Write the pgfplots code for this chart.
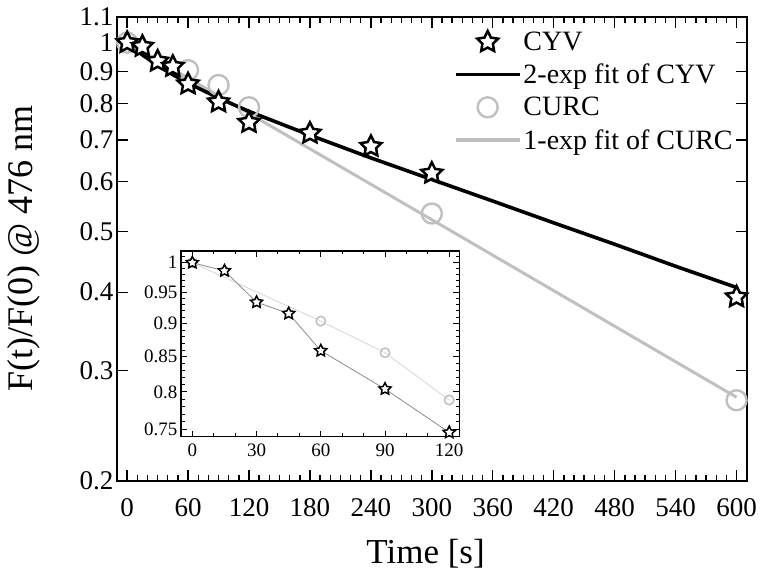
\documentclass[border=0pt]{standalone}
\usepackage{fontspec}
\setmainfont{Liberation Serif}
\usepackage{pgfplots}
\pgfplotsset{compat=1.18}
\usetikzlibrary{plotmarks}

% open five-pointed star
\pgfdeclareplotmark{ostar}{%
  \pgfmathsetmacro\ri{0.5*\pgfplotmarksize}%
  \pgfpathmoveto{\pgfpointpolar{90}{\pgfplotmarksize}}%
  \pgfpathlineto{\pgfpointpolar{126}{\ri pt}}%
  \pgfpathlineto{\pgfpointpolar{162}{\pgfplotmarksize}}%
  \pgfpathlineto{\pgfpointpolar{198}{\ri pt}}%
  \pgfpathlineto{\pgfpointpolar{234}{\pgfplotmarksize}}%
  \pgfpathlineto{\pgfpointpolar{270}{\ri pt}}%
  \pgfpathlineto{\pgfpointpolar{306}{\pgfplotmarksize}}%
  \pgfpathlineto{\pgfpointpolar{342}{\ri pt}}%
  \pgfpathlineto{\pgfpointpolar{18}{\pgfplotmarksize}}%
  \pgfpathlineto{\pgfpointpolar{54}{\ri pt}}%
  \pgfpathclose
  \pgfusepathqfillstroke}

\definecolor{curc}{RGB}{192,192,192}
\definecolor{insetcyv}{RGB}{140,140,140}
\definecolor{insetcurc}{RGB}{215,215,215}

\pgfplotsset{
  longlegend/.style={legend image code/.code={\draw[mark repeat=2,mark phase=2,##1] plot coordinates {(0pt,0pt) (32pt,0pt) (64pt,0pt)};}},
  marklegend/.style={legend image code/.code={\draw[##1] plot coordinates {(32pt,0pt)};}},
}

\pgfplotstableread{
t   f
0   1.000
15  0.986
30  0.934
45  0.916
60  0.859
90  0.804
120 0.746
180 0.717
240 0.683
300 0.619
600 0.393
}\cyv

\pgfplotstableread{
t   f
0   1.000
60  0.904
90  0.856
120 0.789
300 0.534
600 0.269
}\curc

\pgfplotstableread{
t   f
0   1.000
15  0.956
30  0.920
45  0.889
60  0.862
90  0.816
120 0.777
180 0.712
240 0.655
300 0.605
360 0.559
420 0.516
480 0.477
540 0.440
600 0.407
}\cyvfit

\pgfplotstableread{
t   f
0   1.000
300 0.522
600 0.272
}\curcfit

\begin{document}
\begin{tikzpicture}
\useasboundingbox (-117pt,-99pt) rectangle (644pt,481pt);
\begin{axis}[
  scale only axis, width=629.7pt, height=464.3pt,
  xmin=-10, xmax=610,
  ymode=log, ymin=0.2, ymax=1.1,
  xtick={0,60,...,600}, minor x tick num=5,
  ytick={0.2,0.3,0.4,0.5,0.6,0.7,0.8,0.9,1,1.1},
  yticklabels={0.2,0.3,0.4,0.5,0.6,0.7,0.8,0.9,1,1.1},
  minor y tick num=0,
  tick align=inside,
  major tick length=11pt, minor tick length=6pt,
  axis line style={line width=1.8pt},
  every tick/.append style={black, line width=1.4pt},
  tick label style={font=\fontsize{27}{30}\selectfont},
  xticklabel style={yshift=-14pt},
  /pgf/number format/assume math mode=true,
  xlabel={Time [s]},
  xlabel style={font=\fontsize{35}{38}\selectfont, at={(axis description cs:0.49,-0.157)}, anchor=center},
  ylabel={F(t)/F(0) @ 476 nm},
  ylabel style={font=\fontsize{36}{38}\selectfont, at={(axis description cs:-0.1485,0.5)}, anchor=center},
  legend style={at={(0.986,0.976)}, anchor=north east, draw=none, fill=none,
    font=\fontsize{28}{30}\selectfont, row sep=8pt, inner xsep=3pt, inner ysep=2pt},
  legend cell align=left,
  longlegend,
]
\addplot[curc, line width=3pt, forget plot] table[x=t,y=f] {\curcfit};
\addplot[black, line width=3.6pt, forget plot] table[x=t,y=f] {\cyvfit};
\addplot[only marks, mark=o, mark size=10pt, mark options={draw=curc, line width=2.4pt}, forget plot] table[x=t,y=f] {\curc};
\addplot[only marks, mark=ostar, mark size=11pt, mark options={draw=black, fill=white, line width=2.5pt}, forget plot] table[x=t,y=f] {\cyv};

\addlegendimage{only marks, mark=ostar, mark size=11pt, mark options={draw=black, fill=white, line width=2.5pt}, marklegend}
\addlegendimage{black, line width=3.6pt, longlegend}
\addlegendimage{only marks, mark=o, mark size=10pt, mark options={draw=curc, line width=2.4pt}, marklegend}
\addlegendimage{curc, line width=3.4pt, longlegend}
\legend{CYV, 2-exp fit of CYV, CURC, 1-exp fit of CURC}
\end{axis}

\begin{axis}[
  at={(64pt,44.3pt)}, anchor=south west,
  scale only axis, width=278.3pt, height=185.7pt,
  xmin=-5.3, xmax=124.7,
  ymode=log, ymin=0.7405, ymax=1.0204,
  xtick={0,30,...,120}, minor x tick num=2,
  ytick={0.75,0.8,0.85,0.9,0.95,1},
  yticklabels={0.75,0.8,0.85,0.9,0.95,1},
  minor ytick={0.76,0.77,0.78,0.79,0.81,0.82,0.83,0.84,0.86,0.87,0.88,0.89,0.91,0.92,0.93,0.94,0.96,0.97,0.98,0.99,1.01,1.02},
  tick align=inside,
  major tick length=6pt, minor tick length=3.5pt,
  axis line style={line width=1.3pt},
  every tick/.append style={black, line width=1pt},
  tick label style={font=\fontsize{19}{21}\selectfont},
  xticklabel style={yshift=-4pt},
  /pgf/number format/assume math mode=true,
  axis background/.style={fill=white},
]
\addplot[insetcurc, line width=0.8pt, mark=o, mark size=4.7pt, mark options={draw=curc, line width=1.5pt}]
  table[x=t,y=f] {
t   f
0   1.000
60  0.904
90  0.856
120 0.789
};
\addplot[insetcyv, line width=0.8pt, mark=ostar, mark size=6.3pt, mark options={draw=black, fill=white, line width=1.5pt}]
  table[x=t,y=f] {
t   f
0   1.000
15  0.986
30  0.934
45  0.916
60  0.859
90  0.804
120 0.746
};
\end{axis}
\end{tikzpicture}
\end{document}
